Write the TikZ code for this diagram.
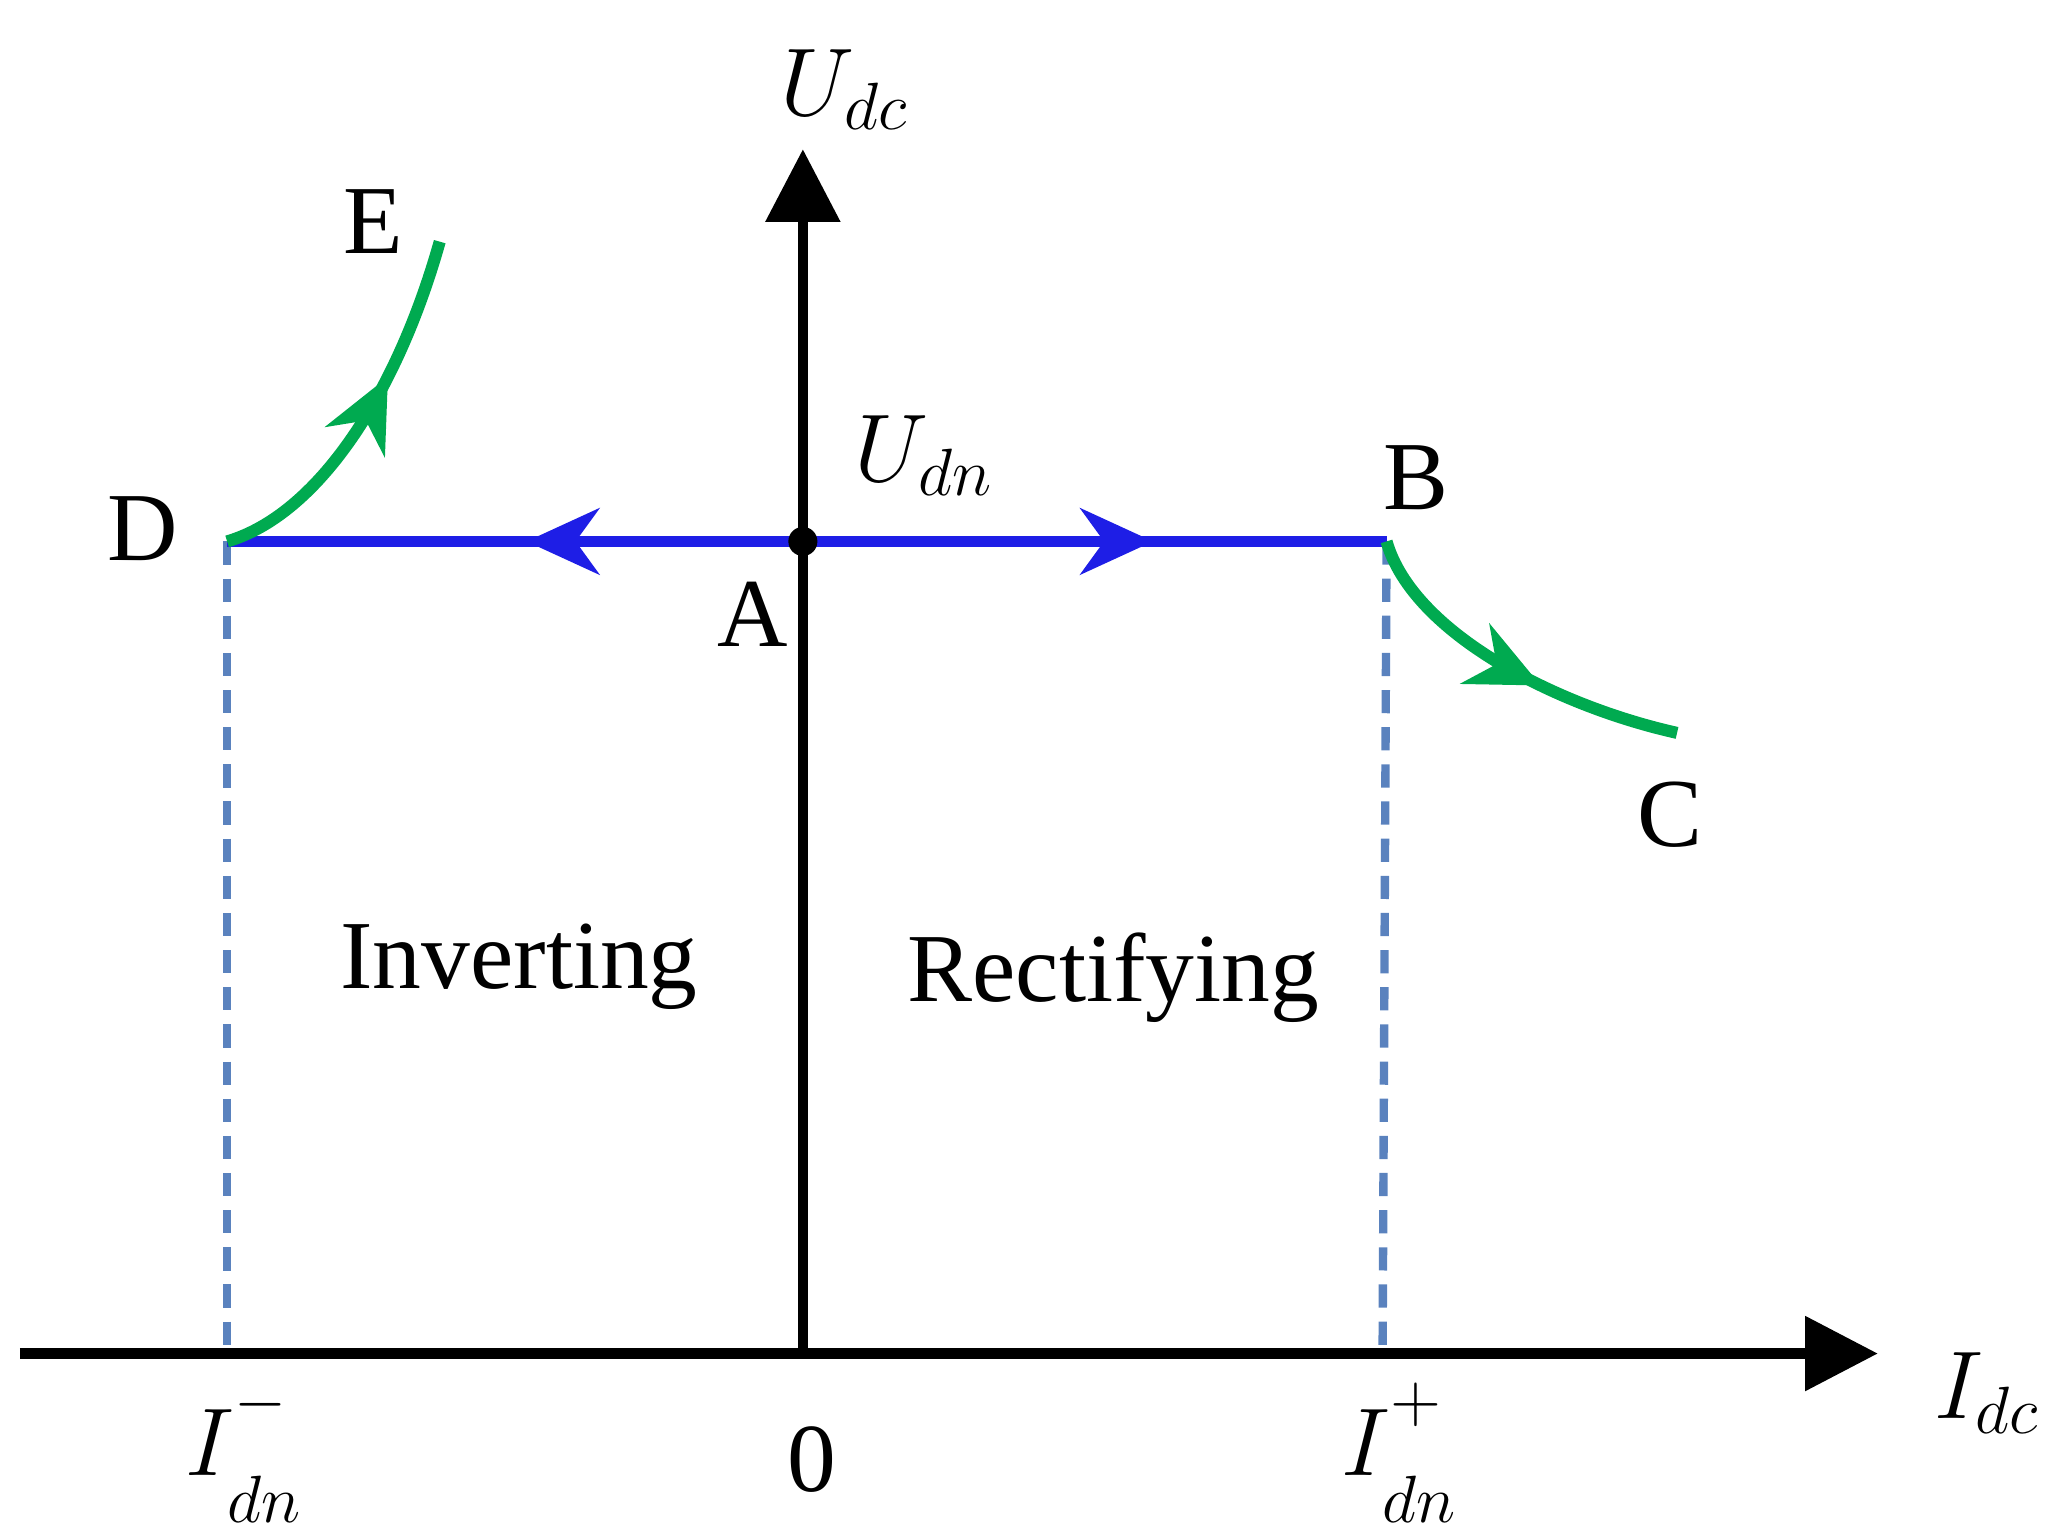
\documentclass[tikz,border=0pt]{standalone}
\usepackage{fontspec}
\setmainfont{Liberation Serif}
\usetikzlibrary{arrows.meta,decorations.markings}
\newcommand{\supsub}[2]{^{\raisebox{4pt}{$\scriptstyle #1$}}_{\raisebox{-5pt}{$\scriptstyle #2$}}}
\begin{document}
\begin{tikzpicture}[x=0.01cm,y=-0.01cm,
  lab/.style={font=\fontsize{21}{23}\selectfont},
  axisline/.style={line width=2.2pt,-{Triangle[length=0.55cm,width=0.55cm]}},
  dline/.style={line width=1.8pt,color={rgb,255:red,90;green,130;blue,190},dash pattern=on 5pt off 3pt},
  gline/.style={line width=2.6pt,color={rgb,255:red,0;green,170;blue,80}},
  bline/.style={line width=2.4pt,color={rgb,255:red,30;green,30;blue,230}},
  midarrow/.style={postaction={decorate},decoration={markings,mark=at position #1 with {\arrow{Stealth[length=0.55cm,width=0.5cm]}}}}]
\useasboundingbox (0,0) rectangle (1560,1163);
\coordinate (xs) at (15,1025); \coordinate (xe) at (1422,1025);
\coordinate (ys) at (608,1025); \coordinate (ye) at (608,113);
\coordinate (D) at (172,410); \coordinate (B) at (1050,410);
\coordinate (A) at (608,410);
\coordinate (E) at (333,183); \coordinate (C) at (1270,555);
\coordinate (Db) at (172,1025); \coordinate (Bb) at (1047,1025);
\draw[dline] (D) -- (Db);
\draw[dline] (B) -- (Bb);
\draw[axisline] (xs) -- (xe);
\draw[axisline] (ys) -- (ye);
\draw[bline,midarrow=0.48] (A) -- (D);
\draw[bline,midarrow=0.6] (A) -- (B);
\draw[gline,midarrow=0.62] (D) .. controls (240,390) and (300,300) .. (E);
\draw[gline,midarrow=0.6] (B) .. controls (1070,480) and (1180,535) .. (C);
\fill (A) circle (11);
\node[lab] (lD) at (108,400) {D};
\node[lab] (lE) at (283,168) {E};
\node[lab] (lB) at (1072,362) {B};
\node[lab] (lC) at (1265,617) {C};
\node[lab] (lA) at (570,465) {A};
\node[lab] (lU) at (700,345) {$U_{dn}$};
\node[lab] (lUdc) at (640,68) {$U_{dc}$};
\node[lab] (lI) at (1505,1055) {$I_{dc}$};
\node[lab] (lIm) at (185,1100) {$I\supsub{-}{dn}$};
\node[lab] (l0) at (615,1105) {0};
\node[lab] (lIp) at (1060,1100) {$I\supsub{+}{dn}$};
\node[lab] (inv) at (393,732) {Inverting};
\node[lab] (rec) at (843,740) {Rectifying};
\end{tikzpicture}
\end{document}
